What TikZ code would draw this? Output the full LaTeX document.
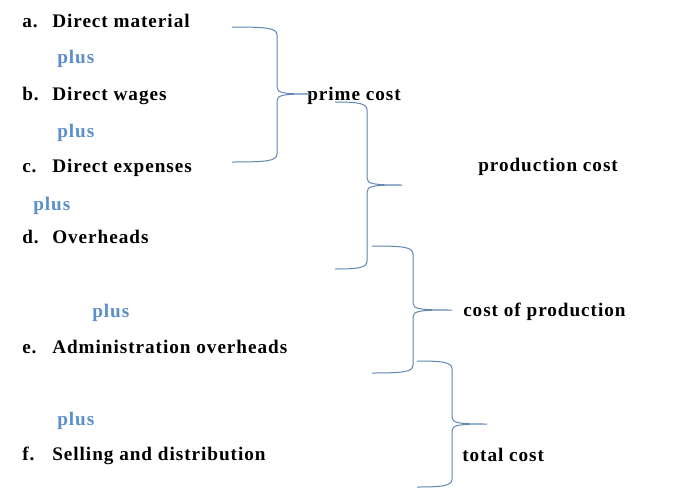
\documentclass[tikz,border=0pt]{standalone}
\usepackage{fontspec}
\setmainfont{Liberation Serif}[LetterSpace=5]
\definecolor{plusblue}{RGB}{91,143,203}
\definecolor{braceblue}{RGB}{96,134,178}
\tikzset{
  item/.style={anchor=base west,inner sep=0pt,font=\fontsize{14.4}{16}\selectfont\bfseries},
  plusword/.style={item,text=plusblue},
  brace/.style={draw=braceblue,line width=0.75pt}
}

\begin{document}
\begin{tikzpicture}[x=0.75pt,y=-0.75pt]
\useasboundingbox (0,0) rectangle (673,496);
%\draw[help lines] (0,0) grid[step=50] (673,496);
% the six cost items
\foreach \n/\l/\t/\y in {a/a./Direct material/27,b/b./Direct wages/100,c/c./Direct expenses/172,%
  d/d./Overheads/243,e/e./Administration overheads/353,f/f./Selling and distribution/460}{
  \node[item] (l\n) at (22,\y) {\l};
  \node[item] (\n) at (52,\y) {\t};
}
% the plus signs in between
\foreach \n/\x/\y in {ab/57/63,bc/57/137,cd/33/210,de/92/317,ef/57/425}
  \node[plusword] (p\n) at (\x,\y) {plus};
% totals
\node[item] (prime) at (307,100) {prime cost};
\node[item] (prodcost) at (478,171) {production cost};
\node[item] (costprod) at (463,316) {cost of production};
\node[item] (total) at (462,461) {total cost};
% braces: left end / stem / tip / top / middle / bottom
\foreach \l/\c/\p/\t/\m/\b in {232/277/310/27/94/162,335/367/402/102/185/269,%
  372/413/452/246/310/373,417/452/487/361/424/487}
  \draw[brace] (\l,\t) .. controls (\c-10,\t) and (\c,\t+1) .. (\c,\t+8)
    -- (\c,\m-7) .. controls (\c,\m-1) and (\c+6,\m) .. (\p,\m)
    .. controls (\c+6,\m) and (\c,\m+1) .. (\c,\m+7)
    -- (\c,\b-8) .. controls (\c,\b-1) and (\c-10,\b) .. (\l,\b);
\end{tikzpicture}
\end{document}
